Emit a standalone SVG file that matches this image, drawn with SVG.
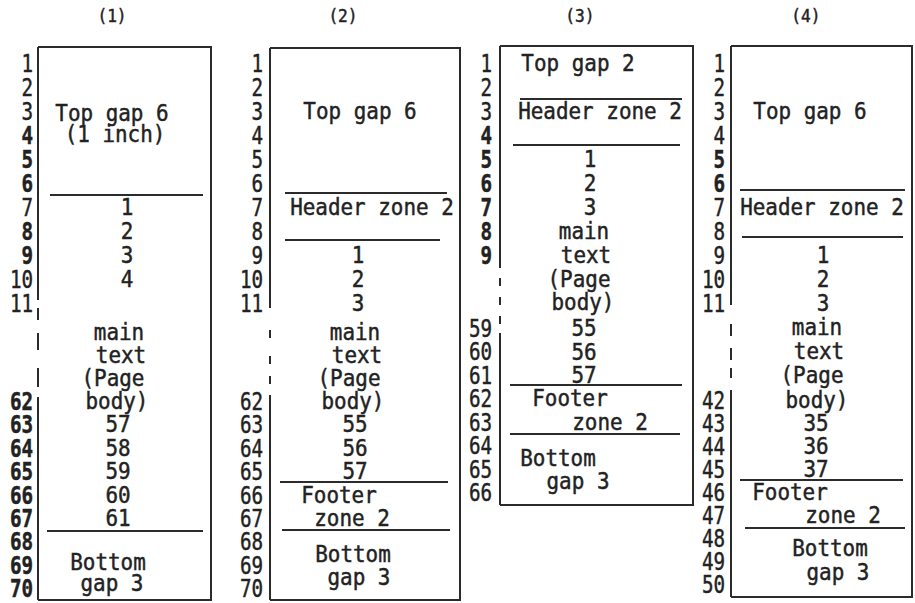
<svg xmlns="http://www.w3.org/2000/svg" width="915" height="603" viewBox="0 0 915 603">
<style>
text{font-family:"DejaVu Sans Mono","Liberation Mono",monospace;fill:#222;stroke:#222;stroke-width:.45px;transform-box:fill-box}
.t{font-size:23px;text-anchor:middle;transform-origin:center;transform:scaleX(.91)}
.n{font-size:24px;text-anchor:end;transform-origin:right center;transform:scaleX(.8)}
.b{font-weight:bold}
.h{font-size:18px;text-anchor:middle;transform-origin:center;transform:scaleX(.9)}
.box{fill:none;stroke:#2b2b2b;stroke-width:2}
.sep{stroke:#2b2b2b;stroke-width:2}
</style>
<rect width="915" height="603" fill="#fff"/>

<g id="page1">
<text class="h" x="112" y="22">(1)</text>
<path class="box" d="M38 47H211V600H38M38 47V300M38 308V320M38 333V350M38 368V387M38 397V600"/>
<line class="sep" x1="50" y1="195" x2="203" y2="195"/>
<line class="sep" x1="47" y1="531" x2="203" y2="531"/>
<g>
<text class="n" x="33" y="72">1</text><text class="n" x="33" y="96">2</text><text class="n" x="33" y="120">3</text><text class="n b" x="33" y="144">4</text><text class="n b" x="33" y="168">5</text><text class="n b" x="33" y="192">6</text><text class="n" x="33" y="216">7</text><text class="n b" x="33" y="240">8</text><text class="n b" x="33" y="264">9</text><text class="n" x="33" y="288">10</text><text class="n" x="33" y="312">11</text>
<text class="n b" x="33" y="410">62</text><text class="n b" x="33" y="433">63</text><text class="n b" x="33" y="457">64</text><text class="n b" x="33" y="480">65</text><text class="n b" x="33" y="504">66</text><text class="n b" x="33" y="527">67</text><text class="n b" x="33" y="550">68</text><text class="n b" x="33" y="574">69</text><text class="n b" x="33" y="597">70</text>
</g>
<text class="t" x="112" y="121">Top gap 6</text>
<text class="t" x="115" y="142">(1 inch)</text>
<text class="t" x="127" y="215">1</text><text class="t" x="127" y="239">2</text><text class="t" x="127" y="263">3</text><text class="t" x="127" y="287">4</text>
<text class="t" x="119" y="340">main</text><text class="t" x="121" y="363">text</text><text class="t" x="113" y="386">(Page</text><text class="t" x="117" y="409">body)</text>
<text class="t" x="118" y="432">57</text><text class="t" x="118" y="456">58</text><text class="t" x="118" y="479">59</text><text class="t" x="118" y="503">60</text><text class="t" x="118" y="526">61</text>
<text class="t" x="108" y="570">Bottom</text><text class="t" x="112" y="591">gap 3</text>
</g>

<g id="page2">
<text class="h" x="343" y="22">(2)</text>
<path class="box" d="M270 48H460V600H270M270 48V308M270 330V338M270 356V364M270 376V384M270 395V600"/>
<line class="sep" x1="285" y1="193" x2="447" y2="193"/>
<line class="sep" x1="285" y1="240" x2="440" y2="240"/>
<line class="sep" x1="280" y1="482" x2="448" y2="482"/>
<line class="sep" x1="282" y1="530" x2="450" y2="530"/>
<g>
<text class="n" x="263" y="72">1</text><text class="n" x="263" y="96">2</text><text class="n" x="263" y="120">3</text><text class="n" x="263" y="144">4</text><text class="n" x="263" y="168">5</text><text class="n" x="263" y="192">6</text><text class="n" x="263" y="216">7</text><text class="n" x="263" y="240">8</text><text class="n" x="263" y="264">9</text><text class="n" x="263" y="288">10</text><text class="n" x="263" y="312">11</text>
<text class="n" x="263" y="410">62</text><text class="n" x="263" y="433">63</text><text class="n" x="263" y="457">64</text><text class="n" x="263" y="480">65</text><text class="n" x="263" y="504">66</text><text class="n" x="263" y="527">67</text><text class="n" x="263" y="550">68</text><text class="n" x="263" y="574">69</text><text class="n" x="263" y="597">70</text>
</g>
<text class="t" x="360" y="119">Top gap 6</text>
<text class="t" x="372" y="215">Header zone 2</text>
<text class="t" x="358" y="263">1</text><text class="t" x="358" y="287">2</text><text class="t" x="358" y="311">3</text>
<text class="t" x="355" y="340">main</text><text class="t" x="357" y="363">text</text><text class="t" x="349" y="386">(Page</text><text class="t" x="353" y="409">body)</text>
<text class="t" x="355" y="432">55</text><text class="t" x="355" y="456">56</text><text class="t" x="355" y="479">57</text>
<text class="t" x="339" y="503">Footer</text><text class="t" x="352" y="526">zone 2</text>
<text class="t" x="353" y="562">Bottom</text><text class="t" x="359" y="585">gap 3</text>
</g>

<g id="page3">
<text class="h" x="580" y="22">(3)</text>
<path class="box" d="M500 46H693V505H500M500 46V268M500 278V286M500 297V305M500 316V324M500 333V505"/>
<line class="sep" x1="520" y1="99" x2="682" y2="99"/>
<line class="sep" x1="513" y1="145" x2="680" y2="145"/>
<line class="sep" x1="510" y1="385" x2="682" y2="385"/>
<line class="sep" x1="510" y1="434" x2="680" y2="434"/>
<g>
<text class="n" x="492" y="72">1</text><text class="n" x="492" y="96">2</text><text class="n" x="492" y="120">3</text><text class="n b" x="492" y="144">4</text><text class="n b" x="492" y="168">5</text><text class="n b" x="492" y="192">6</text><text class="n b" x="492" y="216">7</text><text class="n b" x="492" y="240">8</text><text class="n b" x="492" y="264">9</text>
<text class="n" x="492" y="337">59</text><text class="n" x="492" y="360">60</text><text class="n" x="492" y="384">61</text><text class="n" x="492" y="407">62</text><text class="n" x="492" y="431">63</text><text class="n" x="492" y="454">64</text><text class="n" x="492" y="478">65</text><text class="n" x="492" y="501">66</text>
</g>
<text class="t" x="578" y="71">Top gap 2</text>
<text class="t" x="600" y="119">Header zone 2</text>
<text class="t" x="590" y="167">1</text><text class="t" x="590" y="191">2</text><text class="t" x="590" y="215">3</text>
<text class="t" x="584" y="239">main</text><text class="t" x="586" y="263">text</text><text class="t" x="579" y="287">(Page</text><text class="t" x="583" y="310">body)</text>
<text class="t" x="584" y="336">55</text><text class="t" x="584" y="360">56</text><text class="t" x="584" y="383">57</text>
<text class="t" x="570" y="406">Footer</text><text class="t" x="610" y="430">zone 2</text>
<text class="t" x="558" y="466">Bottom</text><text class="t" x="578" y="489">gap 3</text>
</g>

<g id="page4">
<text class="h" x="806" y="22">(4)</text>
<path class="box" d="M731 46H912V597H731M731 46V305M731 324V336M731 348V360M731 368V378M731 390V597"/>
<line class="sep" x1="740" y1="190" x2="905" y2="190"/>
<line class="sep" x1="742" y1="237" x2="903" y2="237"/>
<line class="sep" x1="740" y1="480" x2="903" y2="480"/>
<line class="sep" x1="745" y1="528" x2="905" y2="528"/>
<g>
<text class="n" x="725" y="72">1</text><text class="n" x="725" y="96">2</text><text class="n" x="725" y="120">3</text><text class="n" x="725" y="144">4</text><text class="n b" x="725" y="168">5</text><text class="n b" x="725" y="192">6</text><text class="n" x="725" y="216">7</text><text class="n" x="725" y="240">8</text><text class="n" x="725" y="264">9</text><text class="n" x="725" y="288">10</text><text class="n" x="725" y="312">11</text>
<text class="n" x="725" y="409">42</text><text class="n" x="725" y="432">43</text><text class="n" x="725" y="455">44</text><text class="n" x="725" y="478">45</text><text class="n" x="725" y="501">46</text><text class="n" x="725" y="524">47</text><text class="n" x="725" y="547">48</text><text class="n" x="725" y="570">49</text><text class="n" x="725" y="593">50</text>
</g>
<text class="t" x="810" y="119">Top gap 6</text>
<text class="t" x="822" y="215">Header zone 2</text>
<text class="t" x="823" y="263">1</text><text class="t" x="823" y="287">2</text><text class="t" x="823" y="311">3</text>
<text class="t" x="817" y="335">main</text><text class="t" x="819" y="359">text</text><text class="t" x="812" y="383">(Page</text><text class="t" x="817" y="408">body)</text>
<text class="t" x="816" y="431">35</text><text class="t" x="816" y="454">36</text><text class="t" x="816" y="477">37</text>
<text class="t" x="790" y="500">Footer</text><text class="t" x="843" y="523">zone 2</text>
<text class="t" x="830" y="556">Bottom</text><text class="t" x="838" y="580">gap 3</text>
</g>
</svg>
